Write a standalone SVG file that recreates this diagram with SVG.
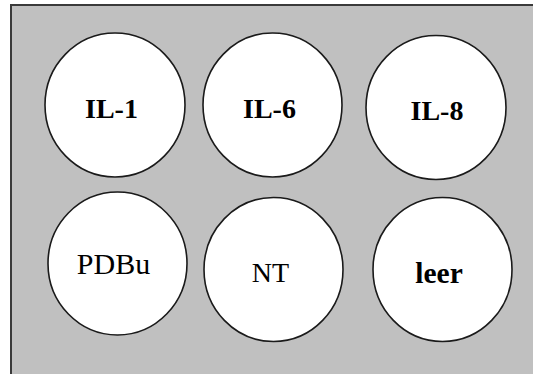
<svg xmlns="http://www.w3.org/2000/svg" width="533" height="374" viewBox="0 0 533 374">
  <style>
    .plate { fill: #c0c0c0; stroke: #3a3a3a; stroke-width: 2; }
    .well { fill: #ffffff; stroke: #1a1a1a; stroke-width: 1.6; }
    .lbl { font-family: "Liberation Serif", "Times New Roman", serif; font-size: 28px; fill: #000; text-anchor: middle; }
    .b { font-weight: bold; }
  </style>
  <rect width="533" height="374" fill="#ffffff"/>
  <!-- plate body -->
  <rect class="plate" x="11" y="5" width="540" height="390"/>
  <g id="well-il1">
    <ellipse class="well" cx="115" cy="105" rx="70" ry="72"/>
    <text class="lbl b" x="111.5" y="118">IL-1</text>
  </g>
  <g id="well-il6">
    <ellipse class="well" cx="272.5" cy="105" rx="69.5" ry="72"/>
    <text class="lbl b" x="269.5" y="118">IL-6</text>
  </g>
  <g id="well-il8">
    <ellipse class="well" cx="436" cy="107.5" rx="70" ry="72"/>
    <text class="lbl b" x="437" y="120">IL-8</text>
  </g>
  <g id="well-pdbu">
    <ellipse class="well" cx="117.5" cy="263.5" rx="69.5" ry="71.5"/>
    <text class="lbl" x="113.5" y="274" style="font-size:30px">PDBu</text>
  </g>
  <g id="well-nt">
    <ellipse class="well" cx="273.5" cy="269.5" rx="69.5" ry="72"/>
    <text class="lbl" x="270.5" y="281.5">NT</text>
  </g>
  <g id="well-leer">
    <ellipse class="well" cx="442.5" cy="269.5" rx="69.5" ry="72"/>
    <text class="lbl b" x="439" y="283" style="font-size:29.5px">leer</text>
  </g>
  <g id="connectors"/>
</svg>
